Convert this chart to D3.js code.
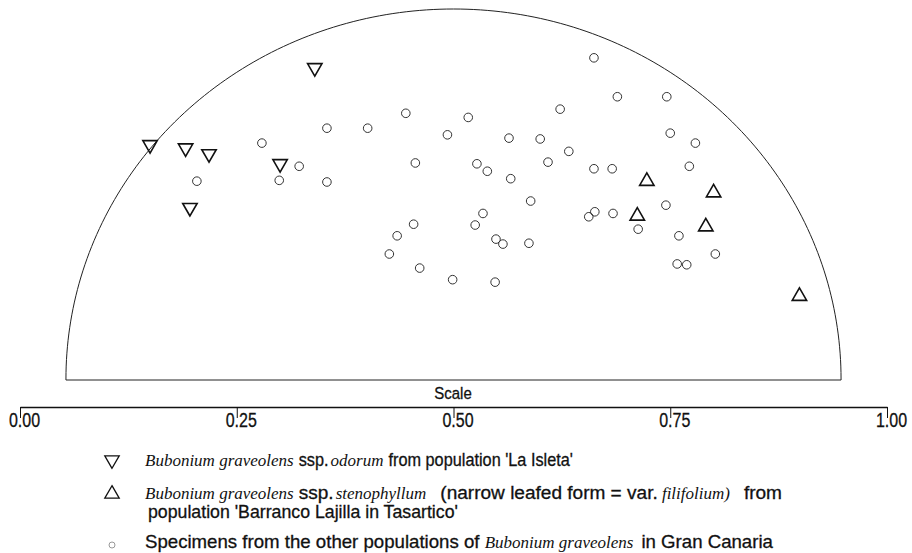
<!DOCTYPE html>
<html><head><meta charset="utf-8">
<script src="https://cdn.jsdelivr.net/npm/d3@7/dist/d3.min.js"></script>
<style>body{margin:0;background:#fff}svg{display:block}</style>
</head><body>
<svg id="chart" width="912" height="553"></svg>
<script>
// ---- data (ordination units; x = scale axis 0..1, y = height above base line) ----
const odorumX = [0.340, 0.150, 0.191, 0.218, 0.300, 0.196];
const odorumY = [0.376, 0.283, 0.279, 0.272, 0.260, 0.207];

const stenoX = [0.723, 0.800, 0.712, 0.791, 0.899];
const stenoY = [0.239, 0.225, 0.197, 0.184, 0.100];

const otherX = [0.279,0.354,0.401,0.445,0.493,0.322,0.204,0.299,0.354,0.456,
                0.662,0.689,0.746,0.623,0.517,0.564,0.600,0.633,0.750,0.779,
                0.527,0.539,0.566,0.609,0.662,0.683,0.772,
                0.589,0.534,0.525,0.454,0.435,0.426,0.549,0.557,0.587,0.461,0.499,0.548,
                0.656,0.663,0.684,0.745,0.713,0.760,0.802,0.758,0.769];
const otherY = [0.285,0.303,0.303,0.321,0.295,0.257,0.239,0.240,0.238,0.261,
                0.388,0.341,0.341,0.326,0.316,0.291,0.290,0.275,0.297,0.285,
                0.260,0.251,0.242,0.262,0.254,0.254,0.257,
                0.215,0.200,0.186,0.187,0.173,0.151,0.169,0.163,0.164,0.134,0.120,0.117,
                0.196,0.202,0.200,0.210,0.181,0.173,0.151,0.139,0.138];

const tickValues = [0, 0.25, 0.5, 0.75, 1];
const tickLabels = ["0.00", "0.25", "0.50", "0.75", "1.00"];
const boundaryCenter = 0.5, boundaryRadius = 0.447;

const axisTitle = "Scale";
const legendLines = [
  [{t:"Bubonium graveolens", f:"it"}, {t:"ssp.", f:"sans", gap:2}, {t:"odorum", f:"it"}, {t:"from population 'La Isleta'", f:"sans"}],
  [{t:"Bubonium graveolens", f:"it"}, {t:"ssp.", f:"sans", gap:2}, {t:"stenophyllum", f:"it", gap:14}, {t:"(narrow leafed form = var.", f:"sans", gap:4}, {t:"filifolium)", f:"it", gap:14}, {t:"from", f:"sans"}],
  [{t:"population 'Barranco Lajilla in Tasartico'", f:"sans"}],
  [{t:"Specimens from the other populations of", f:"sans"}, {t:"Bubonium graveolens", f:"it", gap:8}, {t:"in Gran Canaria", f:"sans"}]
];

// ---- drawing ----
const svg = d3.select("#chart");
const x = d3.scaleLinear().domain([0, 1]).range([20, 887]);
const y = d3.scaleLinear().domain([0, boundaryRadius]).range([379, 9]);

// semicircular boundary
const arcPts = d3.range(0, 181, 1).map(a => {
  const t = a * Math.PI / 180;
  return [x(boundaryCenter + boundaryRadius * Math.cos(t)), y(boundaryRadius * Math.sin(t))];
});
arcPts.push([x(boundaryCenter - boundaryRadius), y(0) + 1]);
arcPts.unshift([x(boundaryCenter + boundaryRadius), y(0) + 1]);
svg.append("path").attr("d", d3.line()(arcPts) + "Z")
  .attr("fill", "none").attr("stroke", "#222").attr("stroke-width", 1);

// points
const circ = otherX.map((v, i) => [v, otherY[i]]);
svg.append("g").selectAll("circle").data(circ).join("circle")
  .attr("cx", d => x(d[0])).attr("cy", d => y(d[1])).attr("r", 4.3)
  .attr("fill", "none").attr("stroke", "#333").attr("stroke-width", 1);

const tri = d3.symbol().type(d3.symbolTriangle).size(90);
svg.append("g").selectAll("path").data(odorumX.map((v, i) => [v, odorumY[i]])).join("path")
  .attr("d", tri).attr("transform", d => `translate(${x(d[0])},${y(d[1])}) rotate(180)`)
  .attr("fill", "none").attr("stroke", "#111").attr("stroke-width", 1.6);
svg.append("g").selectAll("path").data(stenoX.map((v, i) => [v, stenoY[i]])).join("path")
  .attr("d", tri).attr("transform", d => `translate(${x(d[0])},${y(d[1])})`)
  .attr("fill", "none").attr("stroke", "#111").attr("stroke-width", 1.6);

// scale axis
const SANS = "'Liberation Sans', Arial, sans-serif";
const SERIF = "'Liberation Serif', 'Times New Roman', serif";
const ax = svg.append("g").attr("transform", "translate(0,407)")
  .call(d3.axisBottom(x).tickValues(tickValues).tickFormat((d, i) => tickLabels[i]).tickSize(11).tickSizeOuter(0));
ax.select(".domain").attr("stroke", "#111").attr("stroke-width", 1.6);
ax.selectAll(".tick line").attr("stroke", "#111").attr("stroke-width", 1);
ax.selectAll(".tick text").attr("font-family", SANS).attr("font-size", 20).attr("fill", "#111")
  .attr("stroke", "#111").attr("stroke-width", 0.3)
  .attr("transform", "scale(0.8,1)").attr("x", 5).attr("y", 6).attr("dy", "0.71em");

svg.append("text").attr("transform", "translate(453,399) scale(0.88,1)")
  .attr("text-anchor", "middle").attr("font-family", SANS).attr("font-size", 17).attr("fill", "#111")
  .attr("stroke", "#111").attr("stroke-width", 0.3)
  .text(axisTitle);

// legend
const lg = svg.append("g");
lg.append("path").attr("d", tri).attr("transform", "translate(112,460) rotate(180)")
  .attr("fill", "none").attr("stroke", "#111").attr("stroke-width", 1.3);
lg.append("path").attr("d", tri).attr("transform", "translate(112,494)")
  .attr("fill", "none").attr("stroke", "#111").attr("stroke-width", 1.3);
lg.append("circle").attr("cx", 112).attr("cy", 545).attr("r", 3)
  .attr("fill", "none").attr("stroke", "#999").attr("stroke-width", 1);

const lineY = [466, 499, 518, 548];
const lineX = [145, 145, 148, 145];
const lineEnd = [573, 782, 458, 773];
legendLines.forEach((segs, li) => {
  const nodes = segs.map(s => {
    const sans = s.f === "sans";
    const t = lg.append("text")
      .attr("font-family", sans ? SANS : SERIF)
      .attr("font-style", sans ? "normal" : "italic")
      .attr("font-size", sans ? 18 : 17)
      .attr("fill", "#111")
      .attr("stroke", sans ? "#111" : "none").attr("stroke-width", 0.3)
      .text(s.t);
    return {s, t, sans, w: t.node().getComputedTextLength()};
  });
  const gaps = segs.slice(0, -1).reduce((a, s) => a + (s.gap !== undefined ? s.gap : 5), 0);
  const itW = d3.sum(nodes.filter(n => !n.sans), n => n.w);
  const sansW = d3.sum(nodes.filter(n => n.sans), n => n.w);
  const k = Math.max(0.8, Math.min(1.1, (lineEnd[li] - lineX[li] - gaps - itW) / sansW));
  let cx = lineX[li];
  nodes.forEach(n => {
    const kk = n.sans ? k : 1;
    n.t.attr("transform", `translate(${cx},${lineY[li]}) scale(${kk},1)`);
    cx += n.w * kk + (n.s.gap !== undefined ? n.s.gap : 5);
  });
});
</script>
</body></html>
